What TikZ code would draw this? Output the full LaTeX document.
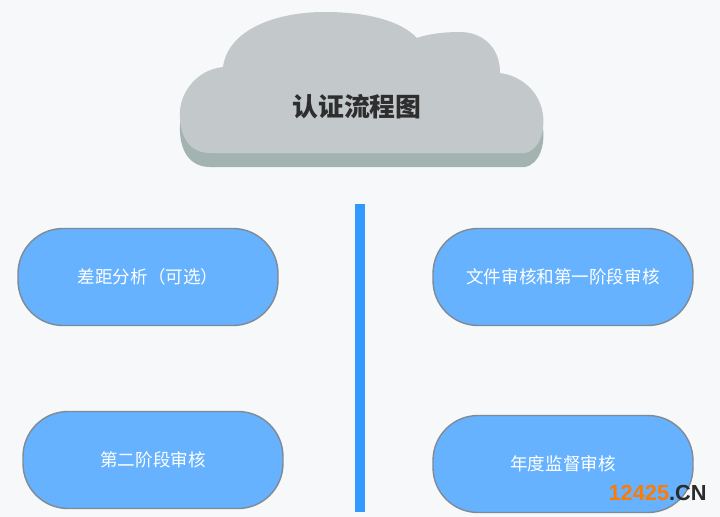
\documentclass[tikz,border=0pt]{standalone}
\usepackage{fontspec}
\newfontfamily\cjk{Noto Sans CJK SC}
\newfontfamily\wmfont{Liberation Sans}
\usetikzlibrary{shapes}
\definecolor{bgcol}{HTML}{F7F8FA}
\definecolor{boxfill}{HTML}{66B2FF}
\definecolor{boxline}{HTML}{7F8A94}
\definecolor{barcol}{HTML}{3399FF}
\definecolor{cloudtop}{HTML}{C3C8CB}
\definecolor{cloudside}{HTML}{A3B3B0}
\definecolor{titlecol}{HTML}{2E2E2E}
\definecolor{wmorange}{HTML}{FF7A00}
\definecolor{wmdark}{HTML}{2B2B2B}
\tikzstyle{stagebox}=[rectangle,rounded corners=0.9cm,draw=boxline,line width=0.8pt,fill=boxfill,minimum width=5.2cm,minimum height=1.94cm,inner sep=0pt,text=white,font=\cjk\fontsize{10}{12}\selectfont]
\tikzstyle{bar} = [draw=barcol,line width=0.2cm,-]
\newcommand\cloudpath{(223,67) .. controls (195,70) and (178,95) .. (180,118)
  .. controls (181,140) and (192,153) .. (210,153) -- (525,153)
  .. controls (540,150) and (545,130) .. (543,115)
  .. controls (540,92) and (522,76) .. (500,73)
  .. controls (500,45) and (480,32) .. (460,32)
  .. controls (440,32) and (425,35) .. (417,38)
  .. controls (400,20) and (365,12) .. (325,12)
  .. controls (275,12) and (228,30) .. (223,67) -- cycle}
\begin{document}
\begin{tikzpicture}[x=0.02cm,y=-0.02cm]
                    \fill[bgcol] (0,0) rectangle (720,517);

                    % cloud
                    \fill[cloudside,shift={(0,14)}] \cloudpath;
                    \fill[cloudtop] \cloudpath;
                    \node[text=titlecol,font=\cjk\bfseries\fontsize{14.7}{17}\selectfont] (title) at (357,107) {认证流程图};

                    \coordinate (bartop) at (360,204);
                    \coordinate (barbot) at (360,512);
                    \path[bar] (bartop) -- (barbot);

                    \node[stagebox] (gap) at (148,277) {差距分析（可选）};
                    \node[stagebox] (stage1) at (563,277) {文件审核和第一阶段审核};
                    \node[stagebox] (stage2) at (153,460) {第二阶段审核};
                    \node[stagebox] (annual) at (563,464) {年度监督审核};

                    \node[anchor=east,inner sep=0pt,font=\wmfont\bfseries\fontsize{12.4}{15}\selectfont] (mark) at (707,493) {\textcolor{wmorange}{12425}\textcolor{wmdark}{.CN}};

                    \pgfresetboundingbox
                    \path [use as bounding box] (0,0) rectangle (720,517);
                \end{tikzpicture}
\end{document}
